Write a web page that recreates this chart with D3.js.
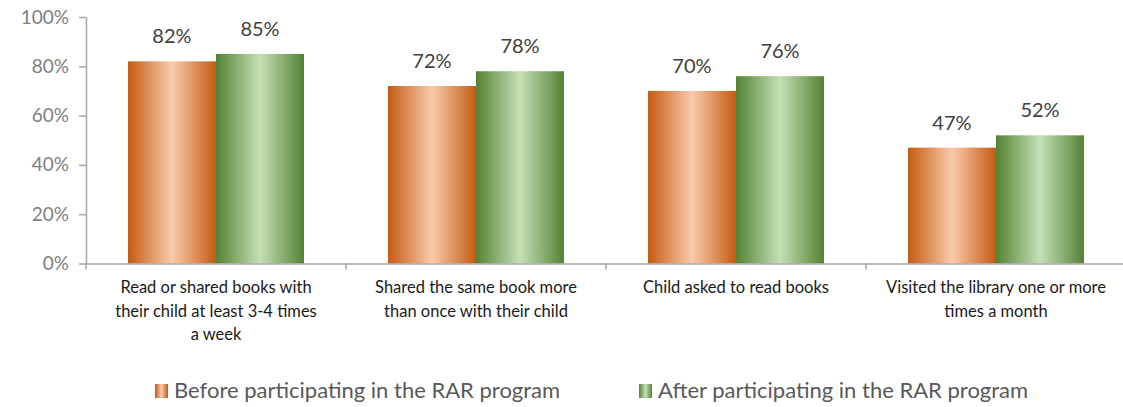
<!DOCTYPE html>
<html><head><meta charset="utf-8">
<script src="https://cdn.jsdelivr.net/npm/d3@7"></script>
<style>body{margin:0;background:#fff}svg{display:block}</style>
</head><body>
<svg id="c" width="1123" height="407"></svg>
<script>
const categories = [
  "Read or shared books with|their child at least 3-4 times|a week",
  "Shared the same book more|than once with their child",
  "Child asked to read books",
  "Visited the library one or more|times a month"
];
const seriesNames = ["Before participating in the RAR program", "After participating in the RAR program"];
const before = [0.82, 0.72, 0.70, 0.47];
const after = [0.85, 0.78, 0.76, 0.52];
const yTicks = [0, 0.2, 0.4, 0.6, 0.8, 1.0];

const svg = d3.select("#c");
const defs = svg.append("defs");
function grad(id, edge, mid) {
  const g = defs.append("linearGradient").attr("id", id).attr("x1", "0").attr("x2", "1").attr("y1", "0").attr("y2", "0");
  g.append("stop").attr("offset", "0").attr("stop-color", edge);
  g.append("stop").attr("offset", "0.5").attr("stop-color", mid);
  g.append("stop").attr("offset", "1").attr("stop-color", edge);
}
grad("gO", "#C55A11", "#F8CBAD");
grad("gG", "#548235", "#C5E0B4");
const fills = ["url(#gO)", "url(#gG)"];

const font = "Lato, 'Open Sans', sans-serif";
const x0 = d3.scaleBand().domain(categories).range([86, 1126]).paddingInner(0).paddingOuter(0);
const x1 = d3.scaleBand().domain([0, 1]).range([0, x0.bandwidth()]).paddingOuter(0.477).paddingInner(0);
const y = d3.scaleLinear().domain([0, 1]).range([263.5, 17]);

// y axis
const yAxis = svg.append("g").attr("transform", "translate(86,0)")
  .call(d3.axisLeft(y).tickValues(yTicks).tickFormat(d3.format(".0%")).tickSize(7).tickSizeOuter(0).tickPadding(10));
yAxis.select(".domain").attr("stroke", "#A6A6A6").attr("stroke-width", 1.5);
yAxis.selectAll(".tick line").attr("stroke", "#A6A6A6").attr("stroke-width", 1.5);
yAxis.selectAll(".tick text").attr("fill", "#808080").attr("font-size", 19).attr("font-family", font);

// bars
const series = [before, after];
const groups = svg.append("g").selectAll("g").data(categories).join("g")
  .attr("transform", d => `translate(${x0(d)},0)`);
groups.selectAll("rect").data((d, i) => series.map((s, k) => ({k, v: s[i]}))).join("rect")
  .attr("x", d => x1(d.k)).attr("width", x1.bandwidth())
  .attr("y", d => y(d.v)).attr("height", d => y(0) - y(d.v))
  .attr("fill", d => fills[d.k]);
groups.selectAll("text.val").data((d, i) => series.map((s, k) => ({k, v: s[i]}))).join("text")
  .attr("class", "val")
  .attr("x", d => x1(d.k) + x1.bandwidth() / 2).attr("y", d => y(d.v) - 18)
  .attr("text-anchor", "middle").attr("font-size", 20).attr("font-family", font).attr("fill", "#404040")
  .text(d => d3.format(".0%")(d.v));

// x axis
const xAxis = svg.append("g").attr("transform", `translate(0,${y(0)})`)
  .call(d3.axisBottom(x0).tickSize(6).tickSizeOuter(0).tickFormat(""));
xAxis.select(".domain").attr("stroke", "#A6A6A6").attr("stroke-width", 1.5);
xAxis.selectAll(".tick line").attr("stroke", "#A6A6A6").attr("stroke-width", 1.5)
  .attr("transform", d => `translate(${-x0.bandwidth() / 2},0)`);
xAxis.selectAll(".tick").each(function(d) {
  const t = d3.select(this).append("text").attr("fill", "#1a1a1a").attr("font-size", 16.5)
    .attr("font-family", font).attr("text-anchor", "middle");
  d.split("|").forEach((line, j) => t.append("tspan").attr("x", 0).attr("y", 29.5 + j * 23.5).text(line));
});

// legend
const legX = [155, 639];
const leg = svg.append("g").selectAll("g").data(seriesNames).join("g")
  .attr("transform", (d, i) => `translate(${legX[i]},384)`);
leg.append("rect").attr("width", 13).attr("height", 14).attr("fill", (d, i) => fills[i]);
leg.append("text").attr("x", 19).attr("y", 14).attr("font-size", 22).attr("font-family", font)
  .attr("fill", "#595959").text(d => d);
</script>
</body></html>
